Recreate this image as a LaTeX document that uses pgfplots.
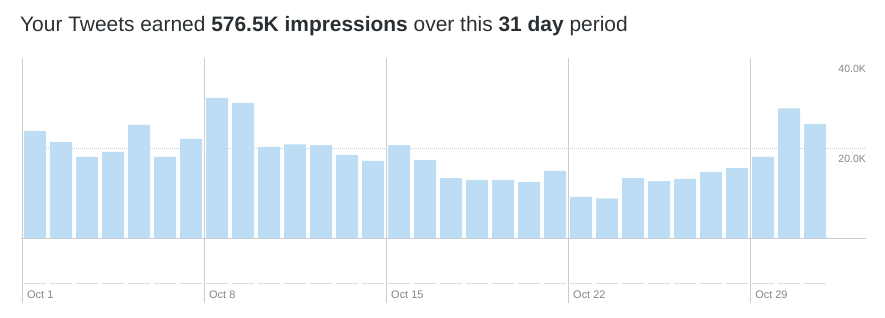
\documentclass[border=0pt]{standalone}
\usepackage{pgfplots}
\pgfplotsset{compat=1.18}
\usepackage{fontspec}
\setmainfont{Liberation Sans}
\definecolor{barblue}{RGB}{189,221,245}
\definecolor{titlecol}{RGB}{41,47,51}
\definecolor{tickcol}{RGB}{128,134,140}
\definecolor{gridcol}{RGB}{204,204,204}
\definecolor{dashcol}{RGB}{220,220,220}
\begin{document}
\begin{tikzpicture}
\begin{axis}[
  x=26bp, y=4.5bp,
  xmin=0.5, xmax=32.96, ymin=-14.4, ymax=40,
  axis line style={draw=none},
  ybar, bar width=22bp,
  xtick={0.5,7.5,14.5,21.5,28.5},
  xticklabels={Oct 1,Oct 8,Oct 15,Oct 22,Oct 29},
  xmajorgrids, major grid style={draw=gridcol, line width=0.8bp},
  ytick={20,40}, yticklabels={20.0K,40.0K}, yticklabel pos=right,
  major tick length=0pt,
  ticklabel style={font=\fontsize{11}{13}\selectfont, text=tickcol, inner sep=0pt},
  xticklabel style={anchor=west, xshift=5bp, yshift=8bp},
  yticklabel style={anchor=north east, yshift=-7bp, font=\fontsize{10.5}{12}\selectfont},
  clip=false,
]
\path (axis cs:-0.346,-17.49) rectangle (axis cs:33.69,52.96);
\draw[gridcol, line width=0.8bp] (axis cs:0.45,0) -- (axis cs:32.96,0);
\draw[gridcol, line width=0.6bp, dash pattern=on 0.8bp off 1.2bp] (axis cs:0.5,20) -- (axis cs:32.96,20);
\draw[dashcol, line width=0.8bp, dash pattern=on 22bp off 4bp] (axis cs:0.577,-10) -- (axis cs:31.5,-10);
\node[anchor=base west, inner sep=0pt, font=\fontsize{21}{25}\selectfont, text=titlecol] at (axis cs:0.423,46.07) {Your Tweets earned \textbf{576.5K impressions} over this \textbf{31 day} period};
\addplot[fill=barblue, draw=none] coordinates {
(1,23.8) (2,21.4) (3,18.1) (4,19.2) (5,25.2) (6,18.1) (7,22.1)
(8,31.2) (9,30.1) (10,20.3) (11,20.9) (12,20.7) (13,18.5) (14,17.2)
(15,20.7) (16,17.4) (17,13.4) (18,13.0) (19,13.0) (20,12.5) (21,15.0)
(22,9.2) (23,8.9) (24,13.4) (25,12.7) (26,13.2) (27,14.7) (28,15.6)
(29,18.1) (30,28.9) (31,25.4)
};
\end{axis}
\end{tikzpicture}
\end{document}
